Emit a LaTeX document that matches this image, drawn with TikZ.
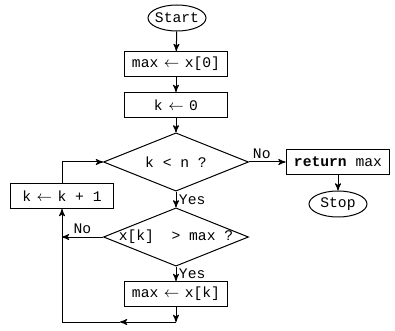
\documentclass[tikz,border=0pt]{standalone}
\usepackage{fontspec}
\setmonofont{Liberation Mono}
\usetikzlibrary{arrows,shapes.geometric,positioning}
\newcommand{\asgn}{\makebox[0.6em]{$\leftarrow$}}
\tikzset{
  terminal/.style={ellipse,draw,minimum width=34.8pt,minimum height=15.6pt,
    inner xsep=-2pt,inner ysep=0pt},
  stepbox/.style={rectangle,draw,minimum width=62.4pt,minimum height=15pt,inner sep=1pt},
  decision/.style={diamond,draw,minimum width=87pt,minimum height=35pt,
    inner xsep=-12pt,inner ysep=0pt,shape aspect=2.5},
  branch/.style={inner sep=1.5pt}
}

\begin{document}
\begin{tikzpicture}[x=0.6pt,y=-0.6pt,>=stealth',line width=0.6pt,
    every node/.append style={font=\ttfamily\fontsize{8.8}{11}\selectfont}]
        \useasboundingbox (0,0) rectangle (395,331);
        \node[terminal] (start) at (177,18) {Start};
        \node[stepbox] (init) at (176,64) {max \asgn{} x[0]};
        \node[stepbox] (kzero) at (176,105) {k \asgn{} 0};
        \node[decision] (cond) at (176,162) {k < n ?};
        \node[stepbox] (ret) at (338,162) {\textbf{return} max};
        \node[terminal] (stop) at (338,204) {Stop};
        \node[stepbox] (inc) at (62,196) {k \asgn{} k + 1};
        \node[decision] (test) at (176,237) {x[k]\ \ > max ?};
        \node[stepbox] (upd) at (176,294) {max \asgn{} x[k]};
        \coordinate (join) at (62,237);
        \coordinate (down) at (176,322);
        \coordinate (mid) at (120,322);
        \coordinate (corner) at (62,322);
        \path[->]
          (start) edge (init)
          (init) edge (kzero)
          (kzero) edge (cond)
          (cond.east) edge node[branch,above,pos=0.35] {No} (ret.west)
          (ret) edge (stop)
          (cond.south) edge node[branch,right] {Yes} (test.north)
          (test.south) edge node[branch,right] {Yes} (upd.north)
          (test.west) edge node[branch,above] {No} (join)
          (upd) edge (down)
          (down) edge (mid);
        \draw (mid) -- (corner);
        \draw[->] (corner) -- (inc.south);
        \draw[->] (inc.north) |- (cond.west);
      \end{tikzpicture}
\end{document}
